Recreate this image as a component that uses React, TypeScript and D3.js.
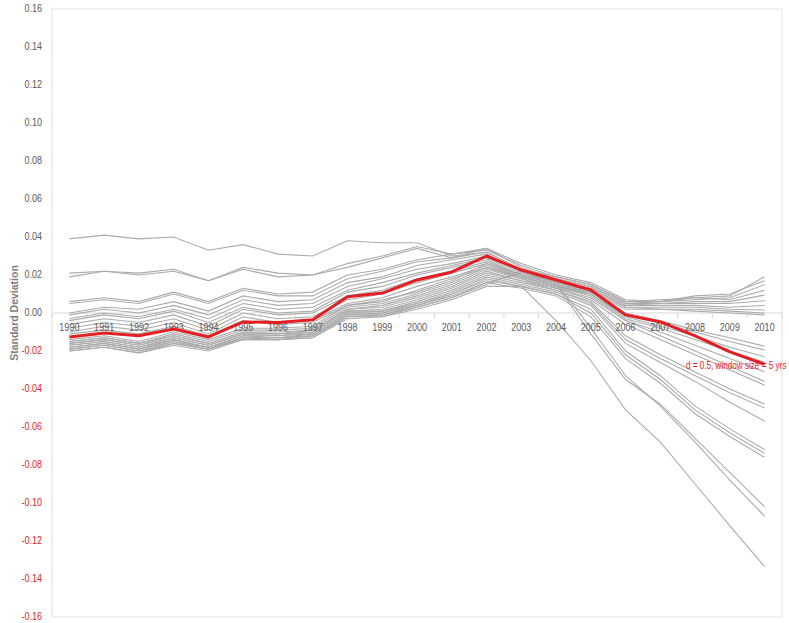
import React from "react";
import * as d3 from "d3";

const years: string[] = ["1990","1991","1992","1993","1994","1995","1996","1997","1998","1999","2000","2001","2002","2003","2004","2005","2006","2007","2008","2009","2010"];
const yTicks: number[] = [-0.16,-0.14,-0.12,-0.10,-0.08,-0.06,-0.04,-0.02,0,0.02,0.04,0.06,0.08,0.10,0.12,0.14,0.16];

const highlight: number[] = [-0.0126,-0.0105,-0.012,-0.0084,-0.0126,-0.0047,-0.005,-0.0035,0.0085,0.0105,0.0174,0.0216,0.030,0.0226,0.0174,0.0121,-0.001,-0.0047,-0.012,-0.0205,-0.027];
const highlightLabel = "d = 0.5, window size = 5 yrs";

const s01 = [0.039,0.041,0.039,0.040,0.033,0.036,0.031,0.030,0.038,0.037,0.037,0.030,0.032,0.023,0.019,0.015,0.006,0.007,0.008,0.009,0.019];
const s02 = [0.021,0.022,0.021,0.023,0.017,0.024,0.021,0.020,0.024,0.029,0.034,0.029,0.034,0.026,0.020,0.016,0.007,0.006,0.009,0.010,0.017];
const s03 = [0.019,0.022,0.020,0.022,0.017,0.023,0.019,0.020,0.026,0.030,0.035,0.031,0.033,0.025,0.019,0.015,0.006,0.006,0.007,0.008,0.015];
const s04 = [0.006,0.008,0.006,0.011,0.006,0.013,0.010,0.011,0.020,0.023,0.028,0.031,0.034,0.024,0.018,0.014,0.005,0.006,0.008,0.007,0.012];
const s05 = [0.005,0.007,0.005,0.010,0.005,0.012,0.009,0.009,0.018,0.022,0.027,0.029,0.032,0.023,0.018,0.014,0.005,0.005,0.006,0.006,0.0095];
const s06 = [0.000,0.003,0.002,0.006,0.001,0.009,0.006,0.007,0.016,0.019,0.025,0.028,0.031,0.022,0.017,0.013,0.004,0.005,0.005,0.005,0.0065];
const s07 = [-0.001,0.002,0.000,0.004,-0.001,0.007,0.004,0.005,0.014,0.018,0.023,0.026,0.030,0.022,0.016,0.013,0.004,0.004,0.004,0.003,0.004];
const s08 = [-0.003,0.000,-0.002,0.002,-0.003,0.005,0.002,0.003,0.012,0.016,0.021,0.025,0.029,0.021,0.016,0.012,0.003,0.003,0.003,0.002,0.0016];
const s09 = [-0.004,-0.001,-0.003,0.001,-0.005,0.003,0.000,0.001,0.011,0.014,0.020,0.024,0.028,0.020,0.015,0.012,0.003,0.002,0.002,0.001,0.000];
const s10 = [-0.006,-0.003,-0.005,-0.001,-0.007,0.002,-0.001,0.000,0.009,0.012,0.018,0.022,0.027,0.020,0.015,0.011,0.002,0.002,0.001,0.000,-0.001];
const s11 = [-0.008,-0.005,-0.007,-0.003,-0.009,0.000,-0.003,-0.002,0.007,0.010,0.016,0.021,0.026,0.019,0.014,0.011,0.000,-0.004,-0.009,-0.013,-0.0175];
const s12 = [-0.010,-0.007,-0.009,-0.005,-0.011,-0.002,-0.005,-0.004,0.005,0.008,0.014,0.019,0.025,0.019,0.014,0.010,-0.001,-0.005,-0.010,-0.015,-0.0195];
const s13 = [-0.011,-0.009,-0.011,-0.007,-0.012,-0.004,-0.006,-0.005,0.004,0.006,0.012,0.018,0.024,0.018,0.013,0.010,-0.002,-0.007,-0.012,-0.018,-0.023];
const s14 = [-0.014,-0.012,-0.015,-0.010,-0.014,-0.008,-0.008,-0.007,0.004,0.007,0.011,0.017,0.026,0.020,0.015,0.010,-0.003,-0.008,-0.014,-0.020,-0.026];
const s15 = [-0.015,-0.013,-0.016,-0.011,-0.015,-0.009,-0.009,-0.008,0.003,0.005,0.010,0.016,0.024,0.019,0.014,0.009,-0.004,-0.010,-0.017,-0.024,-0.031];
const s16 = [-0.015,-0.013,-0.016,-0.012,-0.016,-0.010,-0.010,-0.009,0.002,0.004,0.009,0.015,0.023,0.018,0.013,0.008,-0.004,-0.012,-0.020,-0.028,-0.036];
const s17 = [-0.016,-0.014,-0.017,-0.012,-0.016,-0.010,-0.011,-0.009,0.002,0.003,0.008,0.014,0.022,0.017,0.013,0.007,-0.006,-0.014,-0.022,-0.030,-0.038];
const s18 = [-0.016,-0.014,-0.017,-0.013,-0.017,-0.011,-0.011,-0.010,0.001,0.002,0.007,0.013,0.021,0.017,0.012,0.006,-0.012,-0.022,-0.031,-0.040,-0.048];
const s19 = [-0.017,-0.015,-0.018,-0.013,-0.017,-0.011,-0.012,-0.010,0.001,0.001,0.006,0.012,0.020,0.016,0.012,0.005,-0.014,-0.024,-0.033,-0.042,-0.050];
const s20 = [-0.017,-0.015,-0.018,-0.014,-0.018,-0.012,-0.012,-0.011,0.000,0.001,0.005,0.011,0.019,0.015,0.011,0.004,-0.016,-0.026,-0.036,-0.047,-0.057];
const s21 = [-0.018,-0.016,-0.019,-0.014,-0.018,-0.012,-0.013,-0.011,0.000,0.000,0.005,0.010,0.018,0.014,0.010,0.002,-0.020,-0.033,-0.049,-0.061,-0.072];
const s22 = [-0.018,-0.016,-0.019,-0.015,-0.018,-0.013,-0.013,-0.012,-0.001,0.000,0.004,0.010,0.017,0.014,0.010,0.000,-0.022,-0.035,-0.051,-0.063,-0.074];
const s23 = [-0.019,-0.017,-0.020,-0.015,-0.019,-0.013,-0.013,-0.012,-0.001,-0.001,0.004,0.009,0.016,0.013,0.009,-0.002,-0.024,-0.037,-0.053,-0.065,-0.076];
const s24 = [-0.019,-0.017,-0.020,-0.016,-0.019,-0.013,-0.014,-0.012,-0.002,-0.001,0.003,0.008,0.016,0.021,0.015,-0.011,-0.035,-0.048,-0.066,-0.084,-0.102];
const s25 = [-0.020,-0.018,-0.021,-0.016,-0.019,-0.014,-0.014,-0.013,-0.002,-0.002,0.003,0.008,0.015,0.022,0.016,-0.008,-0.033,-0.049,-0.068,-0.088,-0.107];
const s26 = [-0.020,-0.018,-0.021,-0.017,-0.020,-0.014,-0.014,-0.013,-0.003,-0.002,0.002,0.007,0.014,0.014,-0.004,-0.025,-0.051,-0.068,-0.090,-0.112,-0.1335];

const graySeries: number[][] = [s01,s02,s03,s04,s05,s06,s07,s08,s09,s10,s11,s12,s13,s14,s15,s16,s17,s18,s19,s20,s21,s22,s23,s24,s25,s26];

const W = 789, H = 623;
const plot = { left: 52, right: 782, top: 9, bottom: 617 };
const FONT = "'Liberation Sans', Arial, sans-serif";
const NARROW = 0.86;

export default function App() {
  const x = d3.scaleBand<string>().domain(years).range([plot.left, plot.right]).padding(0);
  const y = d3.scaleLinear().domain([-0.16, 0.16]).range([plot.bottom, plot.top]);
  const cx = (i: number) => (x(years[i]) as number) + x.bandwidth() / 2;
  const line = d3.line<number>().x((_, i) => cx(i)).y((d) => y(d));
  const y0 = y(0);
  const boundaries = d3.range(years.length + 1).map((k) => plot.left + k * x.bandwidth());

  return (
    <svg width={W} height={H} style={{ position: "absolute", left: 0, top: 0, background: "#fff" }}>
      <rect x={plot.left} y={plot.top} width={plot.right - plot.left} height={plot.bottom - plot.top} fill="none" stroke="#e3e3e3" strokeWidth={1} />
      <line x1={plot.left} x2={plot.right} y1={y0} y2={y0} stroke="#d9d9d9" strokeWidth={1} />
      {boundaries.map((bx, k) => (
        <line key={"t" + k} x1={bx} x2={bx} y1={y0} y2={y0 + 5} stroke="#d9d9d9" strokeWidth={1} />
      ))}
      {yTicks.map((t) => (
        <text key={"y" + t} transform={`translate(42,${y(t)}) scale(${NARROW},1)`} textAnchor="end" dominantBaseline="middle" fontFamily={FONT} fontSize={10.5} fill={t < 0 ? "#d0282c" : "#595959"}>
          {t.toFixed(2)}
        </text>
      ))}
      <text transform={`translate(15,${y0}) rotate(-90)`} textAnchor="middle" dominantBaseline="middle" fontFamily={FONT} fontWeight="bold" fontSize={10.5} fill="#7f7f7f">
        Standard Deviation
      </text>
      {graySeries.map((s, k) => (
        <path key={"g" + k} d={line(s) || ""} fill="none" stroke="#ababab" strokeWidth={1.1} />
      ))}
      {years.map((yr, i) => (
        <text key={"x" + yr} transform={`translate(${cx(i)},${y0 + 15}) scale(${NARROW},1)`} textAnchor="middle" dominantBaseline="middle" fontFamily={FONT} fontSize={10.5} fill="#595959">
          {yr}
        </text>
      ))}
      <path d={line(highlight) || ""} fill="none" stroke="#e31e24" strokeWidth={3} strokeLinejoin="round" />
      <text transform={`translate(686,366) scale(0.74,1)`} dominantBaseline="middle" fontFamily={FONT} fontSize={11} fill="#e31e24">
        {highlightLabel}
      </text>
    </svg>
  );
}
